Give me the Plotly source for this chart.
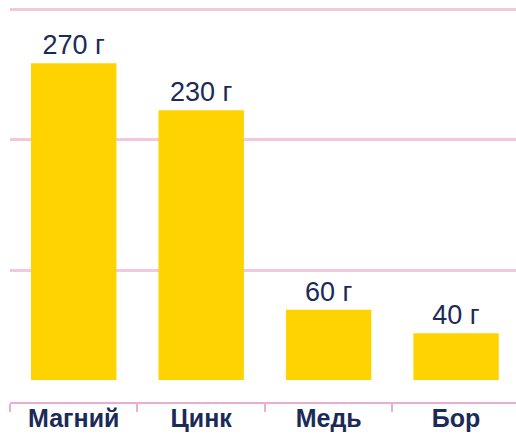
import plotly.graph_objects as go

categories = ["Магний", "Цинк", "Медь", "Бор"]
values = [270, 230, 60, 40]
value_labels = ["270 г", "230 г", "60 г", "40 г"]
grid_values = [93.5, 205, 315.5]

fig = go.Figure(go.Bar(
    x=categories, y=values,
    text=value_labels, textposition="outside",
    textfont=dict(family="Liberation Sans, Arial", size=27, color="#1B2A57"),
    marker=dict(color="#FFD300", line=dict(width=0)),
    cliponaxis=False,
    hoverinfo="skip",
))

fig.update_layout(
    width=516, height=435,
    margin=dict(l=10, r=0, t=5, b=33, autoexpand=False),
    paper_bgcolor="white", plot_bgcolor="white",
    bargap=0.33,
    showlegend=False,
)
fig.update_xaxes(
    type="category", range=[-0.5, 3.47], automargin=False,
    showline=True, linecolor="#E9AED2", linewidth=2,
    ticks="outside", tickson="boundaries", ticklen=8, tickcolor="#E9AED2", tickwidth=2,
    ticklabelstandoff=-7,
    tickfont=dict(family="Liberation Sans, Arial", size=25, color="#1B2A57", weight="bold"),
    showgrid=False,
)
fig.update_yaxes(
    range=[-18.7, 319.7], automargin=False,
    tickvals=grid_values, showticklabels=False,
    showgrid=True, gridcolor="#F2C8DE", gridwidth=2.5,
    zeroline=False, showline=False,
)

fig.write_html(
    "out.html",
    config={"displayModeBar": False},
    post_script="document.body.style.margin='0';document.body.style.overflow='hidden';",
)
